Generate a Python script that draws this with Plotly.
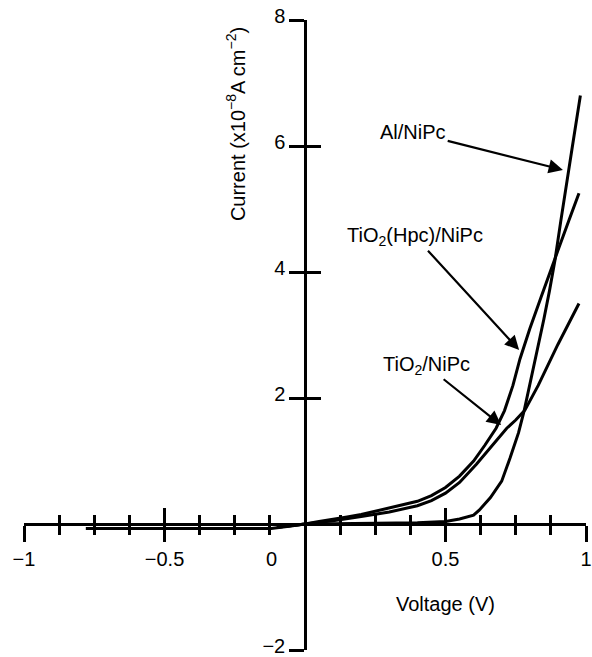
import plotly.graph_objects as go

# ---- data ----
v_al = [-0.78, -0.6, -0.4, -0.2, -0.12, -0.05, 0.0, 0.1, 0.2, 0.3, 0.4, 0.5, 0.55, 0.6, 0.62,
        0.66, 0.7, 0.73, 0.76, 0.78, 0.8, 0.82, 0.85, 0.87, 0.89, 0.91, 0.93, 0.95, 0.98]
i_al = [-0.07, -0.07, -0.07, -0.07, -0.07, -0.03, 0.0, 0.005, 0.01, 0.015, 0.02, 0.04, 0.08, 0.14, 0.22,
        0.42, 0.68, 1.05, 1.45, 1.8, 2.2, 2.6, 3.25, 3.7, 4.2, 4.8, 5.4, 5.95, 6.8]

v_hpc = [-0.1, 0.0, 0.05, 0.1, 0.15, 0.2, 0.25, 0.3, 0.35, 0.4, 0.45, 0.5, 0.55, 0.6, 0.64,
         0.68, 0.71, 0.74, 0.765, 0.8, 0.84, 0.87, 0.9, 0.94, 0.975]
i_hpc = [-0.05, 0.0, 0.04, 0.07, 0.11, 0.15, 0.2, 0.25, 0.3, 0.36, 0.45, 0.58, 0.76, 1.0, 1.25,
         1.52, 1.8, 2.2, 2.62, 3.1, 3.6, 3.98, 4.34, 4.83, 5.25]

v_tio2 = [-0.1, 0.0, 0.1, 0.2, 0.3, 0.4, 0.45, 0.5, 0.55, 0.61, 0.66, 0.718, 0.75, 0.783,
          0.83, 0.9, 0.975]
i_tio2 = [-0.05, 0.0, 0.05, 0.12, 0.19, 0.29, 0.37, 0.49, 0.66, 0.95, 1.22, 1.52, 1.65, 1.81,
          2.2, 2.85, 3.5]

x_ticks = [-1, -0.5, 0, 0.5, 1]
x_ticktext = ["\u22121", "\u22120.5", "0" + "\u00a0" * 12, "0.5", "1"]
y_ticks = [-2, 2, 4, 6, 8]
y_ticktext = ["\u22122", "2", "4", "6", "8"]

labels = ["Al/NiPc", "TiO<sub>2</sub>(Hpc)/NiPc", "TiO<sub>2</sub>/NiPc"]
label_x = [0.385, 0.392, 0.431]
label_y = [6.22, 4.56, 2.52]
arrow_tip_x = [0.918, 0.762, 0.698]
arrow_tip_y = [5.62, 2.76, 1.57]

FONT = "Liberation Sans, Arial, sans-serif"
BLACK = "black"

fig = go.Figure()
for vx, iy in [(v_al, i_al), (v_hpc, i_hpc), (v_tio2, i_tio2)]:
    fig.add_trace(go.Scatter(x=vx, y=iy, mode="lines",
                             line=dict(color=BLACK, width=3), showlegend=False,
                             hoverinfo="skip"))
# invisible trace for overlay axes
fig.add_trace(go.Scatter(x=[0], y=[0], xaxis="x2", yaxis="y2", mode="markers",
                         marker=dict(opacity=0), showlegend=False, hoverinfo="skip"))

common_x = dict(range=[-1, 1], anchor="free", position=0.2, showgrid=False, zeroline=False,
                tickvals=x_ticks, tickwidth=2.5, tickcolor=BLACK, ticklen=16, automargin=False)
common_y = dict(range=[-2, 8], anchor="free", position=0.5, showgrid=False, zeroline=False,
                tickvals=y_ticks, tickwidth=2.5, tickcolor=BLACK, ticklen=15, automargin=False)

fig.update_layout(
    width=592, height=657,
    margin=dict(l=24, r=6, t=20, b=7, autoexpand=False),
    paper_bgcolor="white", plot_bgcolor="white",
    font=dict(family=FONT, size=20, color=BLACK),
    xaxis=dict(**common_x, ticks="outside", showline=True, linecolor=BLACK, linewidth=2.5,
               ticktext=x_ticktext, tickfont=dict(size=20), ticklabeloverflow="allow",
               minor=dict(ticks="outside", dtick=0.125, tick0=0, ticklen=9,
                          tickwidth=2.5, tickcolor=BLACK)),
    xaxis2=dict(**common_x, overlaying="x", ticks="inside", showline=False,
                showticklabels=False,
                minor=dict(ticks="inside", dtick=0.125, tick0=0, ticklen=9,
                           tickwidth=2.5, tickcolor=BLACK)),
    yaxis=dict(**common_y, ticks="outside", showline=True, linecolor=BLACK, linewidth=2.5,
               ticktext=y_ticktext, tickfont=dict(size=20), ticklabeloverflow="allow",
               ticklabelshift=-4),
    yaxis2=dict(**common_y, overlaying="y", ticks="inside", showline=False,
                showticklabels=False),
)

annotations = []
for t, lx, ly, hx, hy in zip(labels, label_x, label_y, arrow_tip_x, arrow_tip_y):
    annotations.append(dict(x=hx, y=hy, xref="x", yref="y", ax=lx, ay=ly,
                            axref="x", ayref="y", text=t, showarrow=True,
                            arrowhead=2, arrowsize=1.3, arrowwidth=2.2,
                            arrowcolor=BLACK, standoff=0,
                            font=dict(size=20, family=FONT, color=BLACK)))
annotations.append(dict(x=0.5, y=-1.27, xref="x", yref="y", text="Voltage (V)",
                        showarrow=False, font=dict(size=20, family=FONT, color=BLACK)))
annotations.append(dict(x=-0.245, y=6.35, xref="x", yref="y",
                        text="Current (x10<sup>\u22128</sup>A cm<sup>\u22122</sup>)",
                        textangle=-90, showarrow=False,
                        font=dict(size=20, family=FONT, color=BLACK)))
fig.update_layout(annotations=annotations)

fig.write_html("out.html", config={"displayModeBar": False},
               post_script="document.body.style.margin='0';document.body.style.overflow='hidden';")
